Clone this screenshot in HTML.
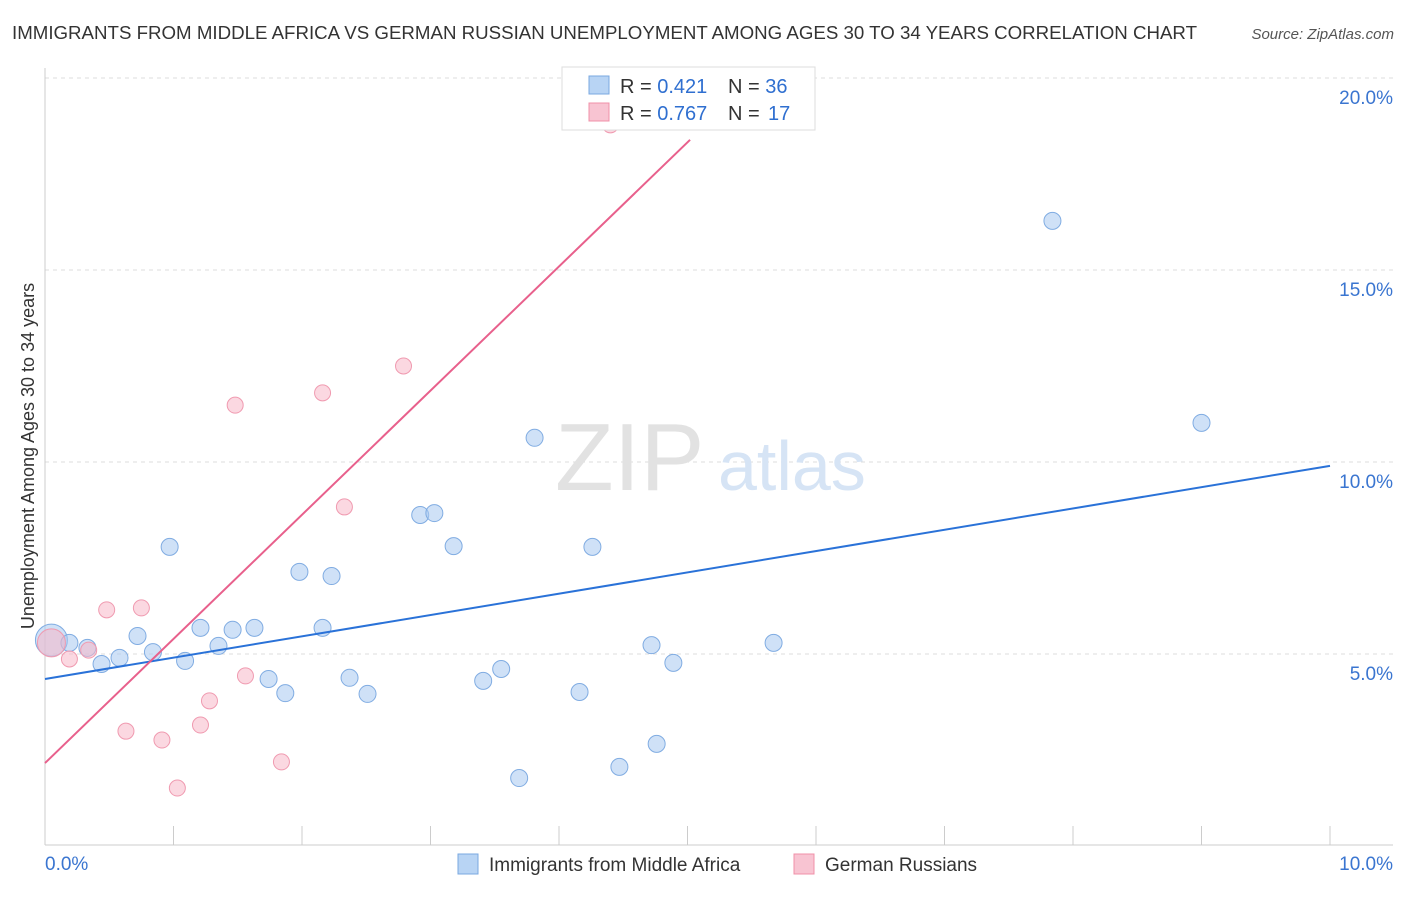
<!DOCTYPE html>
<html><head><meta charset="utf-8"><style>
body{margin:0;background:#fff;font-family:"Liberation Sans",sans-serif;}
svg text{font-family:"Liberation Sans",sans-serif;}
</style></head><body>
<svg width="1406" height="892" xmlns="http://www.w3.org/2000/svg">
<text x="12" y="39" font-size="18" fill="#333" textLength="1185" lengthAdjust="spacingAndGlyphs">IMMIGRANTS FROM MIDDLE AFRICA VS GERMAN RUSSIAN UNEMPLOYMENT AMONG AGES 30 TO 34 YEARS CORRELATION CHART</text>
<text x="1394" y="39" font-size="15" fill="#555" font-style="italic" text-anchor="end">Source: ZipAtlas.com</text>
<g id="grid"></g>
<text x="555" y="490" font-size="96" fill="#e2e2e2" font-family="Liberation Serif">ZIP</text>
<text x="718" y="490" font-size="70" fill="#d6e4f5">atlas</text>
<text transform="translate(34,456) rotate(-90)" font-size="18" fill="#333" text-anchor="middle">Unemployment Among Ages 30 to 34 years</text>
<g id="marks"></g>
<g>
<rect x="562" y="67" width="253" height="63" fill="#fff" stroke="#ddd"/>
<rect x="589" y="76" width="20" height="18" fill="#b8d4f4" stroke="#7aa8e0"/>
<text x="620" y="93" font-size="20" fill="#333">R = <tspan fill="#2f6fd0">0.421</tspan></text>
<text x="728" y="93" font-size="20" fill="#333">N = <tspan fill="#2f6fd0">36</tspan></text>
<rect x="589" y="103" width="20" height="18" fill="#f8c4d2" stroke="#f090a8"/>
<text x="620" y="120" font-size="20" fill="#333">R = <tspan fill="#2f6fd0">0.767</tspan></text>
<text x="728" y="120" font-size="20" fill="#333">N = </text>
<text x="768" y="120" font-size="20" fill="#2f6fd0">17</text>
</g>
<g>
<rect x="458" y="854" width="20" height="20" fill="#b8d4f4" stroke="#7aa8e0"/>
<text x="489" y="871" font-size="19" fill="#333">Immigrants from Middle Africa</text>
<rect x="794" y="854" width="20" height="20" fill="#f8c4d2" stroke="#f090a8"/>
<text x="825" y="871" font-size="19" fill="#333">German Russians</text>
</g>
</svg>
<script>
const blueX=[0.05,0.19,0.33,0.44,0.58,0.72,0.84,0.97,1.09,1.21,1.35,1.46,1.63,1.74,1.87,1.98,2.16,2.23,2.37,2.51,2.92,3.03,3.18,3.41,3.55,3.69,3.81,4.16,4.26,4.47,4.72,4.76,4.89,5.67,7.84,9.00];
const blueY=[5.36,5.29,5.16,4.74,4.90,5.47,5.05,7.79,4.82,5.68,5.21,5.63,5.68,4.35,3.98,7.14,5.68,7.03,4.38,3.96,8.62,8.67,7.81,4.30,4.61,1.77,10.63,4.01,7.79,2.06,5.23,2.66,4.77,5.29,16.28,11.02];
const pinkX=[0.05,0.19,0.34,0.48,0.63,0.75,0.91,1.03,1.21,1.28,1.48,1.56,1.84,2.16,2.33,2.79,4.40];
const pinkY=[5.29,4.87,5.10,6.15,2.99,6.20,2.76,1.51,3.15,3.78,11.48,4.43,2.19,11.80,8.83,12.50,18.78];
const blueLine=[4.35,9.90];
const pinkLine=[2.16,18.39,5.02];
const yTicks=[5,10,15,20];
const yTickLabels=["5.0%","10.0%","15.0%","20.0%"];
const xTickLabels=["0.0%","10.0%"];
const NS="http://www.w3.org/2000/svg";
const sx=v=>45+v*128.5, sy=v=>846-v*38.4;
const grid=document.getElementById('grid'), marks=document.getElementById('marks');
function mk(tag,attrs,parent){const e=document.createElementNS(NS,tag);for(const k in attrs)e.setAttribute(k,attrs[k]);parent.appendChild(e);return e;}
yTicks.forEach((t,i)=>{
 const l=mk('line',{x1:45,x2:1393,y1:sy(t),y2:sy(t),stroke:'#ddd','stroke-dasharray':'4,4'},grid);
 
 
 const tx=mk('text',{x:1393,y:sy(t)+26,'font-size':19,fill:'#3a75d0','text-anchor':'end'},grid);
 tx.textContent=yTickLabels[i];
 
 
});
const ax=mk('line',{x1:45,x2:45,y1:68,y2:845,stroke:'#ccc'},grid);


const bx=mk('line',{x1:45,x2:1393,y1:845,y2:845,stroke:'#ccc'},grid);


for(let i=0;i<=10;i++){
 const t=mk('line',{x1:sx(i),x2:sx(i),y1:826,y2:845,stroke:'#ccc'},grid);
 
 
}
[[0,'start',45],[10,'end',1393]].forEach((d,i)=>{
 const tx=mk('text',{x:d[2],y:870,'font-size':19,fill:'#3a75d0','text-anchor':d[1]},grid);
 tx.textContent=xTickLabels[i];
 
 
});
blueX.forEach((x,i)=>{
 const c=mk('circle',{cx:sx(x),cy:sy(blueY[i]),r:i===0?16:8.5,fill:'rgba(168,200,240,0.55)',stroke:'#80ace2','stroke-width':1},marks);
 
 
});
pinkX.forEach((x,i)=>{
 const c=mk('circle',{cx:sx(x),cy:sy(pinkY[i]),r:i===0?14:8,fill:'rgba(248,184,200,0.55)',stroke:'#f09ab0','stroke-width':1},marks);
 
 
});
const bl=mk('line',{x1:sx(0),y1:sy(blueLine[0]),x2:sx(10),y2:sy(blueLine[1]),stroke:'#2a72d8','stroke-width':2},marks);


const pl=mk('line',{x1:sx(0),y1:sy(pinkLine[0]),x2:sx(pinkLine[2]),y2:sy(pinkLine[1]),stroke:'#e8608c','stroke-width':2},marks);


</script>
</body></html>
